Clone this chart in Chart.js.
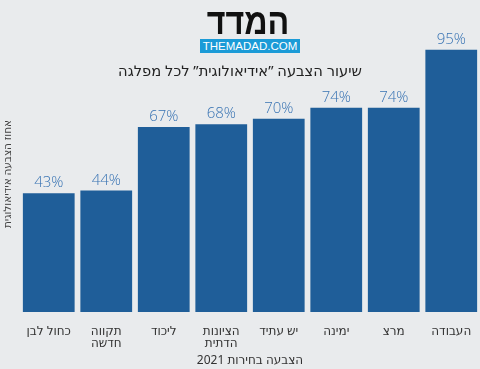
<!DOCTYPE html>
<html>
<head>
<meta charset="utf-8">
<script src="https://cdn.jsdelivr.net/npm/chart.js@4"></script>
<style>
  html, body { margin: 0; padding: 0; background: #e9ebed; overflow: hidden; }
  #wrap { position: relative; width: 480px; height: 369px; }
  #logo { position: absolute; top: 2px; left: 8px; width: 480px; text-align: center;
          font: bold 37px "Liberation Sans", sans-serif; color: #111; line-height: 40px;
          transform: scaleX(0.87); }
  #site { position: absolute; top: 39px; left: 200px; width: 100px; height: 14px; background: #1b9bd7;
          color: #fff; font: 11.5px "Liberation Sans Narrow", "Liberation Sans", sans-serif; text-align: center; line-height: 14px; }
  #title { position: absolute; top: 60px; left: 0; width: 480px; text-align: center;
           font: 14.7px "Noto Sans", "DejaVu Sans", sans-serif; color: #222; direction: rtl; }
  canvas { position: absolute; top: 0; left: 0; }
</style>
</head>
<body>
<div id="wrap">
  <canvas id="chart" width="480" height="369" dir="rtl"></canvas>
  <div id="logo">המדד</div>
  <div id="site">THEMADAD.COM</div>
  <div id="title">שיעור הצבעה ”אידיאולוגית” לכל מפלגה</div>
</div>
<script>
// parties, right to left
const parties = ["העבודה", "מרצ", "ימינה", "יש עתיד", ["הציונות", "הדתית"], "ליכוד", ["תקווה", "חדשה"], "כחול לבן"];
const turnout = [95, 74, 74, 70, 68, 67, 44, 43];

const xTitle = "הצבעה בחירות 2021";
const yTitle = "אחוז הצבעה אידיאולוגית";

const font = "'Noto Sans', 'DejaVu Sans', sans-serif";

// value labels above bars
const valueLabels = {
  id: "valueLabels",
  afterDatasetsDraw(chart) {
    const ctx = chart.ctx;
    const meta = chart.getDatasetMeta(0);
    ctx.save();
    ctx.font = "300 15px 'Open Sans', 'Noto Sans', sans-serif";
    ctx.fillStyle = "#3873b3";
    ctx.textAlign = "center";
    ctx.textBaseline = "alphabetic";
    meta.data.forEach((bar, i) => {
      ctx.fillText(turnout[i] + "%", bar.x, bar.y - 6);
    });
    ctx.restore();
  }
};

new Chart(document.getElementById("chart"), {
  type: "bar",
  data: {
    labels: parties,
    datasets: [{
      data: turnout,
      backgroundColor: "#1f5e99",
      barPercentage: 0.9,
      categoryPercentage: 1.0
    }]
  },
  options: {
    responsive: false,
    animation: false,
    layout: { padding: { top: 36, right: 0, bottom: 0, left: 0 } },
    plugins: { legend: { display: false }, tooltip: { enabled: false } },
    scales: {
      x: {
        reverse: true,
        grid: { display: false },
        border: { display: false },
        ticks: { color: "#333", font: { size: 12, family: font, lineHeight: 0.96 }, maxRotation: 0, padding: 6 },
        title: { display: true, text: xTitle, color: "#333", font: { size: 12, family: font, lineHeight: 1 }, padding: { top: 0, bottom: 2 } },
        afterFit: (s) => { s.height = 57; }
      },
      y: {
        min: 0,
        max: 100,
        grid: { display: false },
        border: { display: false },
        ticks: { display: false },
        title: { display: true, text: yTitle, color: "#444", font: { size: 10.5, family: font, lineHeight: 1 }, padding: { top: 3, bottom: 4 } },
        afterFit: (s) => { s.width = 20; }
      }
    }
  },
  plugins: [valueLabels]
});
</script>
</body>
</html>
